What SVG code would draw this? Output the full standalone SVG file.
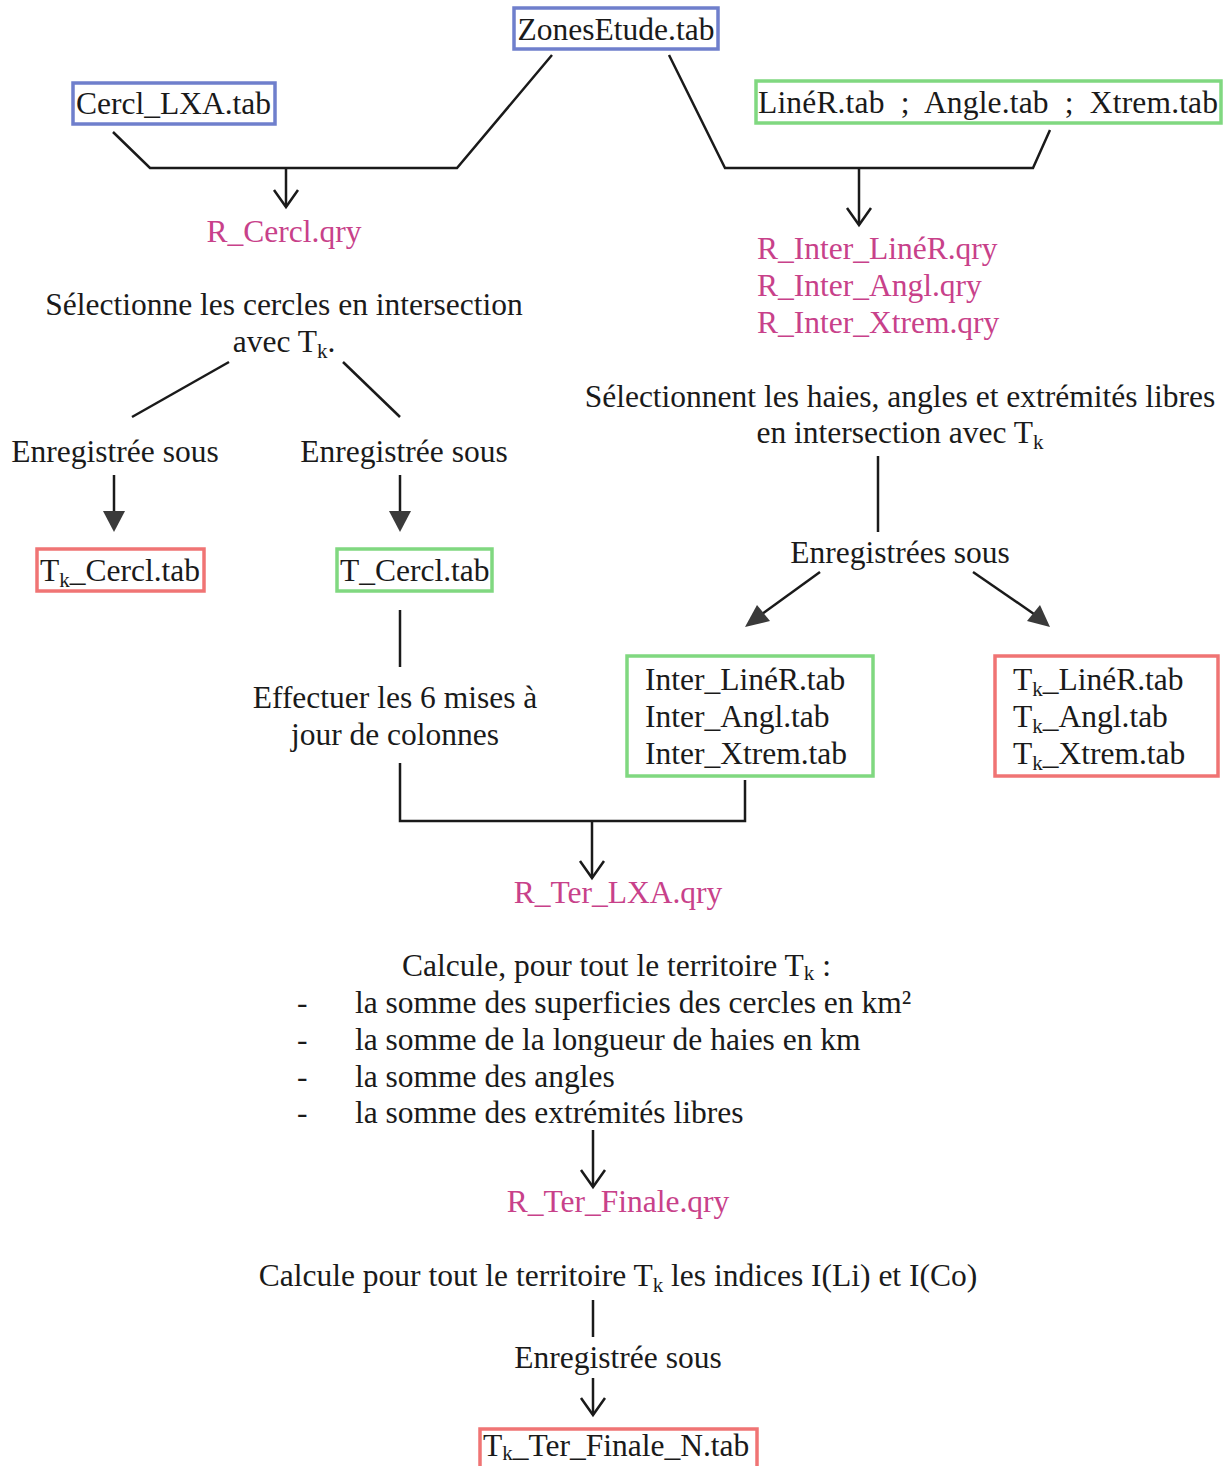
<svg xmlns="http://www.w3.org/2000/svg" width="1229" height="1466" viewBox="0 0 1229 1466">
<defs>
<style>
text{font-family:"Liberation Serif","Times New Roman",serif;font-size:31.5px;fill:#1a1a1a}
.q{fill:#c8418a}
.m{text-anchor:middle}
.sub{font-size:21px}
.bb{fill:#fff;stroke:#6f7fcc;stroke-width:3.5}
.gb{fill:#fff;stroke:#80d880;stroke-width:3.5}
.rb{fill:#fff;stroke:#f07474;stroke-width:3.5}
.ln{fill:none;stroke:#1a1a1a;stroke-width:2.5}
.ah{fill:#3a3a3a}
</style>
</defs>
<rect width="1229" height="1466" fill="#fff"/>

<g id="connectors">
<polyline class="ln" points="113,132 150,168 457,168 552,55"/>
<line class="ln" x1="286" y1="168" x2="286" y2="207"/>
<polyline class="ln" points="274,190 286,207 298,190"/>
<polyline class="ln" points="669,55 725,168 1033,168 1050,130"/>
<line class="ln" x1="859" y1="168" x2="859" y2="225"/>
<polyline class="ln" points="847,208 859,225 871,208"/>
<line class="ln" x1="229" y1="362" x2="132" y2="417"/>
<line class="ln" x1="343" y1="362" x2="400" y2="417"/>
<line class="ln" x1="114" y1="475" x2="114" y2="513"/>
<path class="ah" d="M103,511 L125,511 L114,532 z"/>
<line class="ln" x1="400" y1="475" x2="400" y2="513"/>
<path class="ah" d="M389,511 L411,511 L400,532 z"/>
<line class="ln" x1="400" y1="610" x2="400" y2="667"/>
<polyline class="ln" points="400,763 400,821 745,821 745,780"/>
<line class="ln" x1="592" y1="821" x2="592" y2="878"/>
<polyline class="ln" points="580,861 592,878 604,861"/>
<line class="ln" x1="878" y1="456" x2="878" y2="532"/>
<line class="ln" x1="820" y1="572" x2="762" y2="614"/>
<path class="ah" d="M745,627 L757,605 L770,621 z"/>
<line class="ln" x1="973" y1="572" x2="1034" y2="614"/>
<path class="ah" d="M1050,627 L1027,621 L1040,605 z"/>
<line class="ln" x1="593" y1="1130" x2="593" y2="1187"/>
<polyline class="ln" points="581,1170 593,1187 605,1170"/>
<line class="ln" x1="593" y1="1300" x2="593" y2="1337"/>
<line class="ln" x1="593" y1="1378" x2="593" y2="1415"/>
<polyline class="ln" points="581,1398 593,1415 605,1398"/>
</g>

<g id="n-zones">
<rect class="bb" x="514" y="8" width="204" height="41"/>
<text class="m" x="616" y="40">ZonesEtude.tab</text>
</g>
<g id="n-cercl-lxa">
<rect class="bb" x="73" y="83" width="202" height="41"/>
<text x="76" y="114">Cercl_LXA.tab</text>
</g>
<g id="n-liner-angle-xtrem">
<rect class="gb" x="756" y="81" width="465" height="42"/>
<text x="758" y="113" xml:space="preserve" textLength="460" lengthAdjust="spacing">LinéR.tab  ;  Angle.tab  ;  Xtrem.tab</text>
</g>
<g id="n-r-cercl">
<text class="q m" x="284" y="242">R_Cercl.qry</text>
</g>
<g id="n-r-inter">
<text class="q" x="757" y="259">R_Inter_LinéR.qry</text>
<text class="q" x="757" y="296">R_Inter_Angl.qry</text>
<text class="q" x="757" y="333">R_Inter_Xtrem.qry</text>
</g>
<g id="n-select-cercles">
<text class="m" x="284" y="315">Sélectionne les cercles en intersection</text>
<text class="m" x="284" y="352">avec T<tspan class="sub" dy="6">k</tspan><tspan dy="-6">.</tspan></text>
</g>
<g id="n-enreg-1">
<text class="m" x="115" y="462">Enregistrée sous</text>
</g>
<g id="n-enreg-2">
<text class="m" x="404" y="462">Enregistrée sous</text>
</g>
<g id="n-tk-cercl">
<rect class="rb" x="37" y="549" width="167" height="42"/>
<text x="40" y="581">T<tspan class="sub" dy="6">k</tspan><tspan dy="-6">_Cercl.tab</tspan></text>
</g>
<g id="n-t-cercl">
<rect class="gb" x="337" y="549" width="155" height="42"/>
<text x="340" y="581">T_Cercl.tab</text>
</g>
<g id="n-effectuer">
<text class="m" x="395" y="708">Effectuer les 6 mises à</text>
<text class="m" x="395" y="745">jour de colonnes</text>
</g>
<g id="n-select-haies">
<text class="m" x="900" y="407">Sélectionnent les haies, angles et extrémités libres</text>
<text class="m" x="900" y="443">en intersection avec T<tspan class="sub" dy="6">k</tspan></text>
</g>
<g id="n-enreg-3">
<text class="m" x="900" y="563">Enregistrées sous</text>
</g>
<g id="n-inter-tabs">
<rect class="gb" x="627" y="656" width="246" height="120"/>
<text x="645" y="690">Inter_LinéR.tab</text>
<text x="645" y="727">Inter_Angl.tab</text>
<text x="645" y="764">Inter_Xtrem.tab</text>
</g>
<g id="n-tk-tabs">
<rect class="rb" x="995" y="656" width="223" height="120"/>
<text x="1013" y="690">T<tspan class="sub" dy="6">k</tspan><tspan dy="-6">_LinéR.tab</tspan></text>
<text x="1013" y="727">T<tspan class="sub" dy="6">k</tspan><tspan dy="-6">_Angl.tab</tspan></text>
<text x="1013" y="764">T<tspan class="sub" dy="6">k</tspan><tspan dy="-6">_Xtrem.tab</tspan></text>
</g>
<g id="n-r-ter-lxa">
<text class="q m" x="618" y="903">R_Ter_LXA.qry</text>
</g>
<g id="n-calcule-1">
<text x="402" y="976">Calcule, pour tout le territoire T<tspan class="sub" dy="4">k</tspan><tspan dy="-4"> :</tspan></text>
<text x="297" y="1013">-</text><text x="355" y="1013">la somme des superficies des cercles en km²</text>
<text x="297" y="1050">-</text><text x="355" y="1050">la somme de la longueur de haies en km</text>
<text x="297" y="1087">-</text><text x="355" y="1087">la somme des angles</text>
<text x="297" y="1123">-</text><text x="355" y="1123">la somme des extrémités libres</text>
</g>
<g id="n-r-ter-finale">
<text class="q m" x="618" y="1212">R_Ter_Finale.qry</text>
</g>
<g id="n-calcule-2">
<text class="m" x="618" y="1286">Calcule pour tout le territoire T<tspan class="sub" dy="6">k</tspan><tspan dy="-6"> les indices I(Li) et I(Co)</tspan></text>
</g>
<g id="n-enreg-4">
<text class="m" x="618" y="1368">Enregistrée sous</text>
</g>
<g id="n-tk-ter-finale">
<rect class="rb" x="480" y="1429" width="277" height="45"/>
<text x="483" y="1456">T<tspan class="sub" dy="4">k</tspan><tspan dy="-4">_Ter_Finale_N.tab</tspan></text>
</g>
</svg>
